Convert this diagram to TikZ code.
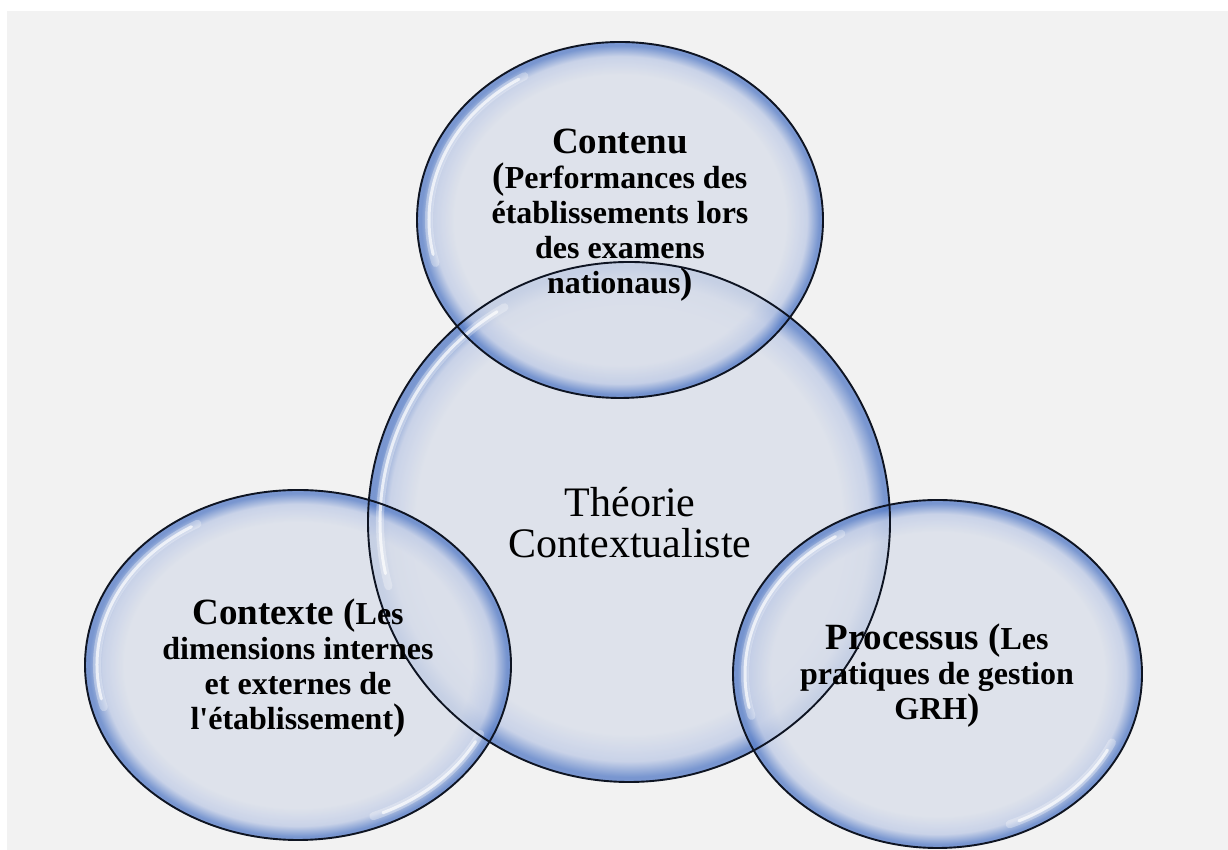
\documentclass[tikz,border=0pt]{standalone}
\usepackage{fontspec}
\setmainfont{Liberation Serif}
\usetikzlibrary{shapes.geometric}
\definecolor{bg}{HTML}{F2F2F2}
\definecolor{bin}{HTML}{DADFEA}
\definecolor{bmid}{HTML}{BFCBE6}
\definecolor{brim}{HTML}{5B80C8}
\definecolor{bline}{HTML}{0E1422}
\pgfdeclareradialshading{bubble}{\pgfpoint{0bp}{0bp}}{color(0bp)=(bin); color(20.3bp)=(bin); color(23bp)=(bmid); color(24.5bp)=(brim); color(25bp)=(brim); color(50bp)=(brim)}
\newcommand\T[1]{{\fontsize{37}{35}\selectfont #1}}
\tikzset{
  bubblefill/.style={shading=bubble, fill opacity=0.8},
  bubbleline/.style={draw=bline, line width=1.9pt},
  shine/.style={draw=white, line width=3pt, opacity=0.7, line cap=round},
  shinesoft/.style={draw=white, line width=8pt, opacity=0.3, line cap=round},
  lbl/.style={align=center, font=\bfseries\fontsize{32}{35}\selectfont, inner sep=0pt, text=black},
  clbl/.style={align=center, font=\fontsize{42}{41}\selectfont, inner sep=0pt, text=black}
}
\begin{document}
\begin{tikzpicture}[x=1pt,y=1pt]
\useasboundingbox (0,0) rectangle (1228,850);
\fill[bg] (7,0) rectangle (1228,839);
% bubble fills
\foreach \cx/\cy/\rx/\ry in {629/328/261/260, 620/630/203/178, 298/185/213/175, 937.5/176/204.5/174}{
  \shade[bubblefill] (\cx,\cy) ellipse [x radius=\rx, y radius=\ry];
}
% highlights
\foreach \cx/\cy/\rx/\ry in {629/328/261/260, 620/630/203/178, 298/185/213/175, 937.5/176/204.5/174}{
  \draw[shinesoft] (\cx,\cy) ++(120:{\rx-12} and {\ry-12}) arc[start angle=120, end angle=195, x radius={\rx-12}, y radius={\ry-12}];
  \draw[shine] (\cx,\cy) ++(122:{\rx-12} and {\ry-12}) arc[start angle=122, end angle=192, x radius={\rx-12}, y radius={\ry-12}];
}
\foreach \cx/\cy/\rx/\ry in {298/185/213/175, 937.5/176/204.5/174}{
  \draw[shinesoft] (\cx,\cy) ++(292:{\rx-12} and {\ry-12}) arc[start angle=292, end angle=335, x radius={\rx-12}, y radius={\ry-12}];
  \draw[shine] (\cx,\cy) ++(295:{\rx-12} and {\ry-12}) arc[start angle=295, end angle=332, x radius={\rx-12}, y radius={\ry-12}];
}
% outlines
\foreach \cx/\cy/\rx/\ry in {629/328/261/260, 620/630/203/178, 298/185/213/175, 937.5/176/204.5/174}{
  \draw[bubbleline] (\cx,\cy) ellipse [x radius=\rx, y radius=\ry];
}
% labels
\node[clbl] (theorie) at (630,327) {Théorie\\Contextualiste};
\node[lbl] (contenu) at (620,635) {\T{Contenu}\\\T{(}Performances des\\établissements lors\\des examens\\nationaus\T{)}};
\node[lbl] (contexte) at (298,182) {\T{Contexte (}Les\\dimensions internes\\et externes de\\l\textquotesingle établissement\T{)}};
\node[lbl] (processus) at (937,174) {\T{Processus (}Les\\pratiques de gestion\\GRH\T{)}};
\end{tikzpicture}
\end{document}
